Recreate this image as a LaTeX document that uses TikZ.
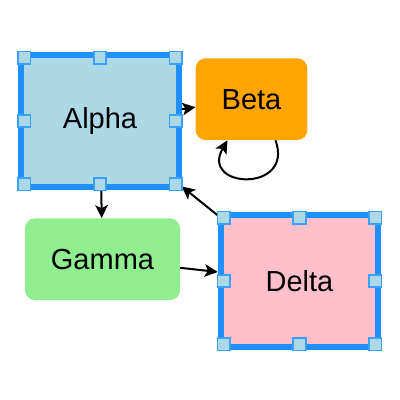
\documentclass[tikz,border=0pt]{standalone}
\usepackage{fontspec}
\setmainfont{Liberation Sans}
\usetikzlibrary{arrows.meta}
\definecolor{lblue}{RGB}{173,216,230}
\definecolor{dblue}{RGB}{30,144,255}
\definecolor{hblue}{RGB}{60,160,255}
\definecolor{orng}{RGB}{255,165,0}
\definecolor{lgreen}{RGB}{144,238,144}
\definecolor{lpink}{RGB}{255,192,203}
\tikzset{
  selbox/.style={draw=dblue, line width=6pt, minimum width=157.5pt, minimum height=132.5pt, inner sep=0pt},
  softbox/.style={rounded corners=10pt, minimum height=81.7pt, inner sep=0pt},
  handle/.style={draw=hblue, fill=lblue, line width=1.8pt, minimum size=12.5pt, inner sep=0pt},
  link/.style={-{Stealth[length=13pt,width=12.5pt,inset=3pt]}, line width=2pt}
}
\begin{document}
\begin{tikzpicture}[x=1pt,y=-1pt,font=\fontsize{29}{34}\selectfont]
	\useasboundingbox (0,0) rectangle (400,400);

	\node [selbox, fill=lblue] (alpha) at (100,120.9) {Alpha};
	\node [softbox, fill=orng, minimum width=111.6pt] (beta) at (251.5,99.2) {Beta};
	\node [softbox, fill=lgreen, minimum width=155pt] (gamma) at (102.5,259.2) {Gamma};
	\node [selbox, fill=lpink] (delta) at (299.5,281) {Delta};

	\draw [link] (alpha) -- (beta);
	\draw [link] (alpha) -- (gamma);
	\draw [link] (gamma) -- (delta);
	\draw [link] (delta) -- (alpha);
	\draw [link] ([xshift=24pt]beta.south) to [out=-70, in=-120, looseness=3] ([xshift=-24pt]beta.south);

	% selection handles
	\foreach \nd in {alpha,delta}
		\foreach \an/\dx/\dy in {north west/6/6, north/0/6, north east/-6/6, east/-6/0, south east/-6/-6, south/0/-6, south west/6/-6, west/6/0}
			\node [handle] at ([shift={(\dx,\dy)}]\nd.\an) {};
\end{tikzpicture}
\end{document}
